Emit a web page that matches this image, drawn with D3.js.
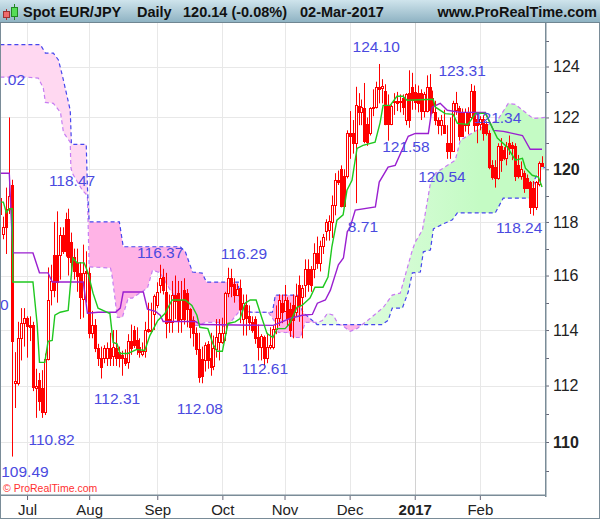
<!DOCTYPE html>
<html><head><meta charset="utf-8">
<style>html,body{margin:0;padding:0;background:#fff}svg{display:block}
text{font-family:"Liberation Sans",Arial,sans-serif}</style>
<script src="https://cdn.jsdelivr.net/npm/d3@7"></script></head><body>
<svg id="c" width="600" height="519"></svg>
<script>
const opens=[118.9,117.55,118.5,118.5,119.4,112.1,112.1,113.7,114.27,114.45,
114.2,114.2,111.9,112.2,111.9,111.05,112.95,115.45,116.75,116.75,
116.75,117.5,118.1,118.1,117.25,116.7,116.45,116.1,115.15,116.15,
116.1,113.9,114.2,113.35,113,113,113,113.35,113.05,113.35,
113.2,113.1,113,112.85,113.6,114,113.65,113.4,113.15,113.25,
114.05,113.95,114.6,114.9,115.65,115.95,115.4,114.4,114.3,115.3,
115.35,114.4,115.45,115.35,114.75,114.35,113.9,113.3,112.95,112.9,
113.5,113,112.7,113.3,113.55,113.55,113.9,115.35,115.9,115.7,
115.3,115.55,114.4,114.9,114.5,114.3,114.4,113.75,113.4,113.75,
113,113.4,113.4,114.05,114.45,115,114.7,115.1,114.75,114.9,
114.65,115.65,115.2,115.65,116.25,116.25,116.25,116.85,116.45,117.1,
117.65,117.7,118,118.65,119.6,120,119.75,119.75,121.4,121.4,
121,122.45,122.2,122.35,121.75,121.4,122.35,122.4,123.2,123.15,
123.05,122.45,121.75,122.6,122.65,122.6,122.75,121.9,122.95,123.2,
123,122.95,122.95,122.25,122.25,123.2,122.75,122.2,121.9,121.7,
121.7,121,121,120.7,122.3,122.35,122.2,121.7,122.2,122,
123.05,121.95,121.75,121.95,121.75,121.4,120.15,120.1,119.65,120.9,
120.75,120.45,121,120.95,120.9,120.15,119.75,119.85,119.65,119.5,
119.3,118.55,119.45,120.25];
const highs=[119.6,118.2,119.3,122,119.6,113.2,114.3,114.8,114.8,114.5,
114.5,114.3,112.6,112.45,112.55,113.15,116.3,116.4,118,118.4,
117.8,117.8,118.35,118.5,117.6,117,117,116.5,117.15,116.9,
116.3,114.7,114.4,113.5,113.4,113.45,113.55,113.9,114,114,
113.4,113.25,113.3,113.85,114.2,114.15,114.1,113.7,113.55,114.3,
115,115,115.3,115.75,116.4,116.25,116.1,115.3,115.8,116,
115.8,115.8,115.9,115.5,114.8,114.5,114.1,113.9,113.4,113.55,
113.6,113.9,113.8,114.4,114.4,114.45,115.4,116.29,116.25,115.9,
115.7,115.85,115.3,115.3,114.9,114.5,114.5,114.2,113.85,113.8,
113.9,114.1,114.15,114.9,115.3,115.3,115.65,115.2,115,115.3,
115.7,116,115.65,116.6,116.6,116.35,117.2,117.45,117.3,117.55,
118.1,118.25,119,119.85,119.95,120.15,120,121.5,122.25,121.9,
123.2,122.95,122.7,123.35,122,122.4,123.1,123.4,124.1,123.5,
123.3,122.9,122.5,122.95,123,122.9,122.9,122.95,123.85,123.75,
123.3,123.25,123.1,123,123.65,123.7,123.05,122.65,122,122.1,
122.3,121.7,122,122.65,123,122.45,122.35,122.35,122.4,123.31,
123.25,122.15,122.05,122.1,121.85,121.5,120.35,120.35,121,121.2,
120.85,121.05,121.3,121.05,121,120.55,120.3,119.95,119.8,119.55,
119.55,119.55,120.3,120.5];
const lows=[118,117.35,116.8,118.3,109.49,111.2,112,112.9,113.4,113,
113.6,111.8,110.85,111.1,110.85,110.95,112.9,114.9,115.2,115,
115.85,116.8,116.7,116,116,115.85,115.4,114.4,114.45,115,
113.7,113.7,113.2,112.7,112.25,112.8,112.7,112.7,112.7,112.7,
112.65,112.35,112.7,112.6,113.1,113.35,113.1,113,113.05,113,
113.9,113.9,114,114.8,115.35,115.3,113.7,113.9,113.9,114.4,
113.9,113.9,114.2,114.1,113.7,113.4,113.1,112.1,112.08,112.5,
112.6,112.35,112.55,113,112.9,113.5,113.6,115.2,115.2,115,
115.25,114.25,113.8,113.8,114,113.9,113.5,112.9,112.9,112.61,
112.8,113.3,113.3,113.85,114.15,114.25,114.7,114.15,113.75,113.7,
114.5,114.3,113.7,115.2,115.4,115.4,115.9,116.25,116.15,116.8,
117.3,117.3,117.4,118.25,119.4,118.55,118.55,119.65,120.4,120.6,
118.71,121.7,121.7,121,120.9,121.3,122.05,122.35,122.55,122.55,
121.7,121.1,121.7,122.1,122.25,122.2,122.1,121.7,121.6,122.3,
122.3,122.2,121.9,122,122.2,122,122.15,121.7,121.35,121.3,
121.4,120.4,120.4,120.7,122.1,121.1,121.25,121.45,121.35,121.9,
121.45,121,121.5,121.1,121.3,120,119.6,119.3,119.6,119.9,
120.35,120.15,120.55,120.35,119.55,119.65,119.6,119.1,119.25,118.3,
118.24,118.45,119.35,120.1];
const closes=[118.3,117.8,117.8,119,113.6,112.15,113.7,114.27,114.45,114.15,
114.1,111.95,112,111.45,111.05,112.95,115.1,115.8,115.45,115.75,
117.5,116.9,116.9,116.7,116.5,116.15,116,115.2,116.1,116.1,
113.9,114.2,113.35,113,112.65,113.35,113.35,113,113.4,113,
113,113,112.8,113.6,113.35,113.45,113.35,113.2,113.25,114,
113.95,114,115.25,115.4,115.9,115.45,114.25,114.3,115.3,115.05,
114.35,115.1,114.4,114.75,114.1,113.9,113.3,112.3,112.35,113.45,
112.9,112.65,113.35,113.75,113.9,113.9,115.35,115.9,115.6,115.3,
115.5,114.75,115,114.45,114.3,114,113.7,113.4,113.8,113,
113.4,113.45,114.05,114.45,115.1,114.65,115.1,114.45,114,114.35,
115.25,114.9,115.55,116.25,115.7,115.65,116.85,116.45,117.1,117.45,
118,118.05,118.65,119.6,119.5,118.6,118.6,121.4,121.3,121,
122.5,122.2,122.4,121.1,121.05,122.35,122.4,123.2,123.1,123.25,
121.75,121.75,122.45,122.65,122.55,122.65,122.4,122.9,121.9,122.7,
122.6,122.55,122.25,122.9,123.2,122.3,122.2,121.9,121.7,121.9,
121.4,120.7,120.7,122.55,122.55,121.3,121.3,122.2,121.7,123.05,
121.7,121.7,121.95,121.4,121.4,120.1,119.7,119.65,120.9,120.35,
120.45,120.9,120.8,120.8,119.75,119.75,120,119.3,119.3,118.55,
118.55,119.5,120.25,120.14];

const tenkan=[[0,118.75],[1,118.75],[2,118.35],[3,118.5],[4,118.5],[4.2,115.76],[11,115.76],[12.4,114.24],[13.2,112.83],[15,112.83],[16.1,113.59],[17.5,113.62],[18.4,114.54],[20.2,114.65],[22.9,114.72],[23.9,115.94],[24.5,116.65],[25.9,116.47],[28.3,116.47],[29.6,116.1],[31.3,115.35],[33,114.8],[35.4,114.68],[37,114.6],[38.1,113.55],[39.4,113.5],[40.4,113.15],[43.1,113.15],[46.1,113.3],[48.8,113.26],[50.5,113.8],[53.2,114.35],[55.6,114.6],[58,115.1],[62.4,115.1],[64.7,114.9],[66.4,114.54],[67.4,114.1],[70.1,114.05],[71.8,113.5],[73.2,113.23],[75,113.23],[76.9,114.24],[79.3,114.3],[81,114.42],[82.7,114.98],[84.4,115.1],[86.4,115.1],[88.4,114.42],[90.1,113.87],[92.1,113.73],[93.5,114.05],[96.2,114.05],[97.8,114.24],[100.2,114.83],[101.9,114.9],[104.6,115.17],[106.3,115.57],[109,115.57],[110.7,115.94],[112,117.07],[113.7,118.07],[115.8,118.27],[117.1,119.2],[118.8,119.58],[120.5,120.8],[122.5,120.92],[126.6,121.04],[128.3,121.8],[129.3,122.47],[131.7,122.47],[134,122.83],[136,122.83],[137.4,122.67],[146.2,122.71],[147,122.4],[150.3,122.15],[153,122.12],[154.4,121.77],[158,121.73],[160.5,122.16],[163.9,122.16],[165.5,121.77],[167.9,121.2],[171.3,120.85],[174,120.35],[176.4,120.42],[177.4,120.04],[179.7,119.77],[181.8,119.7],[183,119.32]];
const kijun=[[0,119.85],[3,119.85],[4.2,116.84],[11,116.84],[13.2,116.1],[16.1,116.1],[17.5,115.76],[28,115.76],[29.4,114.61],[33,114.65],[38.9,114.65],[40.5,114.8],[41.5,115.39],[48.3,115.39],[49.7,114.76],[52.4,114.68],[54,114.54],[55,114.31],[65.9,114.31],[67.6,114.2],[92.2,114.17],[93.9,114.24],[98,114.43],[102,114.54],[105.4,114.57],[107.1,114.98],[109.8,115.1],[111.5,115.46],[114.2,116.4],[115.9,116.65],[117.2,117.63],[118.2,117.81],[119.9,118.45],[126.7,118.57],[128,119.51],[131,120.08],[133.4,120.15],[137.8,121.27],[140.2,121.38],[144.6,121.38],[145.9,122.4],[148.6,122.55],[151,122.28],[155.4,122.2],[163.9,122.2],[166.6,121.5],[169.9,121.46],[176.4,121.3],[179,120.77],[183,120.77]];
const spanB=[[0,124.87],[13.5,124.87],[15.2,124.53],[17.9,124.53],[19.6,124.26],[20.9,123.66],[23.6,122.28],[24,120.96],[29,120.96],[29.4,119.32],[30,118],[40.2,118],[41.5,117.07],[60.8,117.07],[62.5,116.88],[64.9,116.13],[68.2,116.09],[69.6,115.76],[80.4,115.76],[81,114.65],[91.9,114.65],[92.9,115.28],[100.3,115.28],[102.2,114.65],[107,114.2],[129,114.2],[131,114.35],[132.4,114.8],[135.8,114.8],[137.8,115.39],[139.2,116.1],[141.9,116.13],[142.9,116.88],[145.3,116.95],[146.3,117.74],[149.7,117.93],[152.7,118.08],[154.4,118.34],[167.2,118.34],[169.9,118.9],[179,118.9],[180.7,119.66],[182.4,119.96],[184,120.08]];
const spanA=[[0,123.58],[9,123.58],[12.8,123.54],[14.5,123.15],[15.2,122.59],[17.9,122.55],[20.3,122.2],[21.3,121.42],[23.6,121.04],[23.8,120.08],[24.3,119.85],[27.7,119.2],[29.4,119],[30,116.32],[37.2,116.28],[37.8,115.94],[39.5,114.46],[41.2,114.46],[43.2,115.17],[44.6,115.17],[49.7,115.54],[51.4,116.2],[54,116.1],[57.4,115.46],[60,115.1],[62.5,115],[65.9,114.17],[66.9,114.17],[69.3,114.28],[73.6,114.28],[76,114.09],[77.7,114.28],[81,114.72],[86,114.65],[90.5,114.65],[92.9,114.28],[93.9,113.91],[97,113.91],[99,113.73],[101.4,113.73],[103,114.28],[107.4,114.28],[108.8,114.35],[110.5,114.61],[112.5,114.54],[114.2,114.2],[115.5,114.17],[118.2,113.95],[120.6,114.06],[122.3,114.2],[125,114.43],[129.4,114.83],[132.4,115.28],[135.1,115.35],[139.2,116.95],[140.2,117.25],[142.6,117.7],[145.3,119.47],[147,119.85],[153.7,120.35],[155.4,121.12],[159.8,121.42],[162.8,121.62],[167.9,121.88],[171.6,122.55],[174,122.51],[180,121.96],[184,122]];

const priceTicks=[110,112,114,116,118,120,122,124];
const minorTicks=[109,111,113,115,117,119,121,123,125];
const boldTicks=[110,120];
const monthIdx=[9,30,53,75,96,118,140,162];
const monthNames=["Jul","Aug","Sep","Oct","Nov","Dec","2017","Feb"];
const labelText=["124.10","123.31","121.34","121.58","120.54","118.24","8.71","116.37","116.29","118.47","112.61","112.08","112.31","110.82","109.49",".02","0"];
const labelIdx=[127,156,168,137,149.2,175.3,122.5,54,82.3,24.2,89.4,67.4,39.4,17.3,8.3,4.7,1.3];
const labelPos=[124.59,123.62,121.8,120.65,119.5,117.6,117.62,116.65,116.62,119.36,112.4,111,111.33,109.9,108.79,123.27,114.72];

const svg=d3.select("#c");
const x=d3.scaleLinear().domain([0,183]).range([0.4,542]);
const y=d3.scaleLog().domain([110,124]).range([442,66.5]);
const L=1,R=545,T=23,B=495;
const defs=svg.append("defs");
const hg=defs.append("linearGradient").attr("id","hg").attr("x1",0).attr("x2",0).attr("y1",0).attr("y2",1);
hg.append("stop").attr("offset",0).attr("stop-color","#cfe4ec");
hg.append("stop").attr("offset",1).attr("stop-color","#8fb3c3");
const pg=defs.append("linearGradient").attr("id","pg").attr("gradientUnits","userSpaceOnUse").attr("x1",0).attr("x2",600).attr("y1",0).attr("y2",0);
pg.append("stop").attr("offset",0.147).attr("stop-color","#ffd8f1");
pg.append("stop").attr("offset",0.148).attr("stop-color","#ffb3e6");
const gg=defs.append("linearGradient").attr("id","gg").attr("gradientUnits","userSpaceOnUse").attr("x1",320).attr("x2",480).attr("y1",0).attr("y2",0);
gg.append("stop").attr("offset",0).attr("stop-color","#e4fde4");
gg.append("stop").attr("offset",1).attr("stop-color","#c4fbc4");
defs.append("clipPath").attr("id","plot").append("rect").attr("x",L).attr("y",T).attr("width",R-L).attr("height",B-T);
const ax=d=>x(d[0]), ay=d=>y(d[1]);
defs.append("clipPath").attr("id","aboveA").append("path").attr("d",d3.area().x(ax).y0(T).y1(ay)(spanA));
defs.append("clipPath").attr("id","belowA").append("path").attr("d",d3.area().x(ax).y0(B).y1(ay)(spanA));

// grid
const grid=svg.append("g").attr("stroke","#e8e8e8").attr("stroke-width",1);
grid.selectAll("line.h").data(priceTicks).join("line").attr("x1",L).attr("x2",R)
 .attr("y1",d=>Math.round(y(d))+.5).attr("y2",d=>Math.round(y(d))+.5);
grid.selectAll("line.v").data(monthIdx).join("line").attr("y1",T).attr("y2",B)
 .attr("x1",d=>Math.round(x(d))+.5).attr("x2",d=>Math.round(x(d))+.5)
 .attr("stroke",(d,i)=>monthNames[i]==="2017"?"#d2d2d2":"#e8e8e8");

const plot=svg.append("g").attr("clip-path","url(#plot)");
const line=d3.line().x(ax).y(ay);
const cloudPath=line(spanA)+"L"+line(spanB.slice().reverse()).slice(1)+"Z";
plot.append("g").attr("clip-path","url(#aboveA)").append("path").attr("d",cloudPath).attr("fill","url(#pg)");
plot.append("g").attr("clip-path","url(#belowA)").append("path").attr("d",cloudPath).attr("fill","url(#gg)");
plot.append("path").attr("d",line(spanA)).attr("fill","none").attr("stroke","#c77cf2").attr("stroke-width",1.2).attr("stroke-dasharray","4 3");
plot.append("path").attr("d",line(spanB)).attr("fill","none").attr("stroke","#4646ee").attr("stroke-width",1.2).attr("stroke-dasharray","4 3");

// labels behind the candles
svg.append("g").selectAll("text").data(labelText).join("text")
 .attr("x",(d,i)=>x(labelIdx[i])).attr("y",(d,i)=>y(labelPos[i]))
 .attr("text-anchor","middle").attr("font-size",15.5).attr("fill","#4a4adf").text(d=>d);

// candles
const bars=plot.append("g");
opens.forEach((o,i)=>{
 const c=closes[i],cx=Math.round(x(i))+.5,up=c>=o;
 bars.append("line").attr("x1",cx).attr("x2",cx).attr("y1",y(highs[i])).attr("y2",y(lows[i])).attr("stroke","#ff0000");
 const t=Math.round(y(Math.max(o,c))),b=Math.round(y(Math.min(o,c)));
 bars.append("rect").attr("x",cx-1).attr("width",2).attr("y",t+.5).attr("height",Math.max(b-t,1))
  .attr("fill",up?"#fff":"#ff0000").attr("stroke","#ff0000");
});
plot.append("path").attr("d",line(kijun)).attr("fill","none").attr("stroke","#9a1fd0").attr("stroke-width",1.4);
plot.append("path").attr("d",line(tenkan)).attr("fill","none").attr("stroke","#1fc81f").attr("stroke-width",1.4);

// axes
const yAxis=d3.axisRight(y).tickValues(priceTicks).tickFormat(d3.format("d")).tickSize(4).tickPadding(4);
const ya=svg.append("g").attr("transform",`translate(${R},0)`).call(yAxis);
ya.select(".domain").remove();
ya.selectAll(".tick line").attr("stroke","#667");
ya.selectAll(".tick text").attr("font-family",'"Liberation Sans",Arial,sans-serif').attr("font-size",16).attr("fill","#222")
 .attr("font-weight",d=>boldTicks.includes(d)?"bold":"normal");
svg.append("g").selectAll("line").data(minorTicks).join("line").attr("x1",R).attr("x2",R+4)
 .attr("y1",d=>Math.round(y(d))+.5).attr("y2",d=>Math.round(y(d))+.5).attr("stroke","#667");
const xAxis=d3.axisBottom(x).tickValues(monthIdx).tickFormat((d,i)=>monthNames[i]).tickSize(5).tickPadding(4);
const xa=svg.append("g").attr("transform",`translate(0,${B})`).call(xAxis);
xa.select(".domain").remove();
xa.selectAll(".tick line").attr("stroke","#667");
xa.selectAll(".tick text").attr("font-family",'"Liberation Sans",Arial,sans-serif').attr("font-size",15).attr("fill","#222")
 .attr("font-weight",(d,i)=>monthNames[i]==="2017"?"bold":"normal");

// frame
svg.append("rect").attr("x",0).attr("y",22).attr("width",1).attr("height",497).attr("fill","#7a8c98");
svg.append("rect").attr("x",R).attr("y",22).attr("width",1.5).attr("height",497-22).attr("fill","#7a8c98");
svg.append("rect").attr("x",0).attr("y",B-0.5).attr("width",R).attr("height",1.5).attr("fill","#7a8c98");
svg.append("rect").attr("x",599).attr("y",0).attr("width",1).attr("height",519).attr("fill","#7a8c98");
svg.append("rect").attr("x",0).attr("y",518).attr("width",600).attr("height",1).attr("fill","#7a8c98");
svg.append("text").attr("x",3).attr("y",492).attr("font-size",10.5).attr("fill","#ff3030").text("© ProRealTime.com");

// header
svg.append("rect").attr("width",600).attr("height",22).attr("fill","url(#hg)");
svg.append("rect").attr("y",22).attr("width",600).attr("height",1).attr("fill","#6f8692");
const head=svg.append("g").attr("font-size",14.5).attr("font-weight","bold").attr("fill","#111");
const headText=["Spot EUR/JPY","Daily","120.14 (-0.08%)","02-Mar-2017"], headX=[23,137,183,300];
head.selectAll("text").data(headText).join("text").attr("x",(d,i)=>headX[i]).attr("y",17).text(d=>d);
svg.append("text").attr("x",597).attr("y",17).attr("text-anchor","end").attr("font-size",14.5).attr("font-weight","bold").attr("fill","#111").text("www.ProRealTime.com");
svg.append("line").attr("x1",6.5).attr("x2",6.5).attr("y1",9).attr("y2",20).attr("stroke","#a33");
svg.append("rect").attr("x",3.5).attr("y",11.5).attr("width",6).attr("height",6).attr("fill","#ef6a6a").attr("stroke","#933");
svg.append("line").attr("x1",14.5).attr("x2",14.5).attr("y1",4).attr("y2",20).attr("stroke","#282");
svg.append("rect").attr("x",11.5).attr("y",7.5).attr("width",6).attr("height",9).attr("fill","#55dd55").attr("stroke","#282");
</script></body></html>
